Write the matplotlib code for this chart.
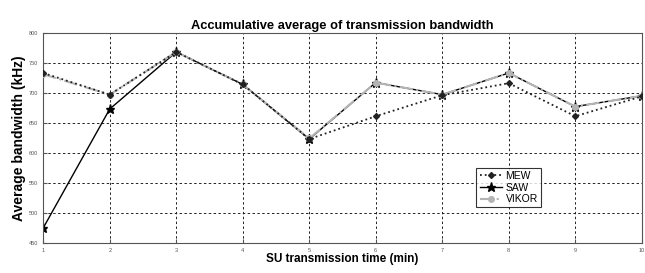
import matplotlib
matplotlib.use("Agg")
import matplotlib.pyplot as plt

plt.rcParams['font.family'] = ['Liberation Sans', 'DejaVu Sans']

time_min = [1, 2, 3, 4, 5, 6, 7, 8, 9, 10]
mew = [733, 697, 768, 714, 623, 661, 696, 716, 661, 694]
saw = [475, 673, 768, 714, 623, 717, 697, 733, 677, 695]
vikor = [731, 697, 768, 714, 624, 717, 697, 733, 677, 695]
yticks = [450, 500, 550, 600, 650, 700, 750, 800]

fig = plt.figure(figsize=(6.45, 2.73), dpi=100)
ax = fig.add_axes([0.067, 0.11, 0.928, 0.77])

ax.plot(time_min, saw, color="black", linestyle="-", linewidth=1.0,
        marker="*", markersize=6.5, label="SAW", zorder=2)
ax.plot(time_min, vikor, color="#b4b4b4", linestyle="-.", linewidth=1.5,
        marker="o", markersize=4, label="VIKOR", zorder=3)
ax.plot(time_min, mew, color="#222222", linestyle=":", linewidth=1.3,
        marker="D", markersize=3, label="MEW", zorder=4)

ax.set_xlim(1, 10)
ax.set_ylim(450, 800)
ax.set_xticks(time_min)
ax.set_yticks(yticks)
ax.tick_params(direction="in", labelsize=4, colors="#555555", length=3)
ax.grid(True, color="#222222", linestyle=(0, (2.5, 2.5)), linewidth=0.7)
for s in ax.spines.values():
    s.set_color("#555555")

ax.set_title("Accumulative average of transmission bandwidth", fontsize=9.3,
             fontweight="bold", pad=3)
ax.set_xlabel("SU transmission time (min)", fontsize=8.5, fontweight="bold", labelpad=0)
ax.set_ylabel("Average bandwidth (kHz)", fontsize=10, fontweight="bold", labelpad=2)

handles, labels = ax.get_legend_handles_labels()
order = [2, 0, 1]
leg = ax.legend([handles[i] for i in order], [labels[i] for i in order],
                loc="lower left", bbox_to_anchor=(0.715, 0.145), fontsize=7.5,
                frameon=True, fancybox=False, edgecolor="black",
                handlelength=2.2, borderpad=0.3, labelspacing=0.15,
                handletextpad=0.3)
leg.get_frame().set_linewidth(0.8)

fig.savefig("out.png", dpi=100)
